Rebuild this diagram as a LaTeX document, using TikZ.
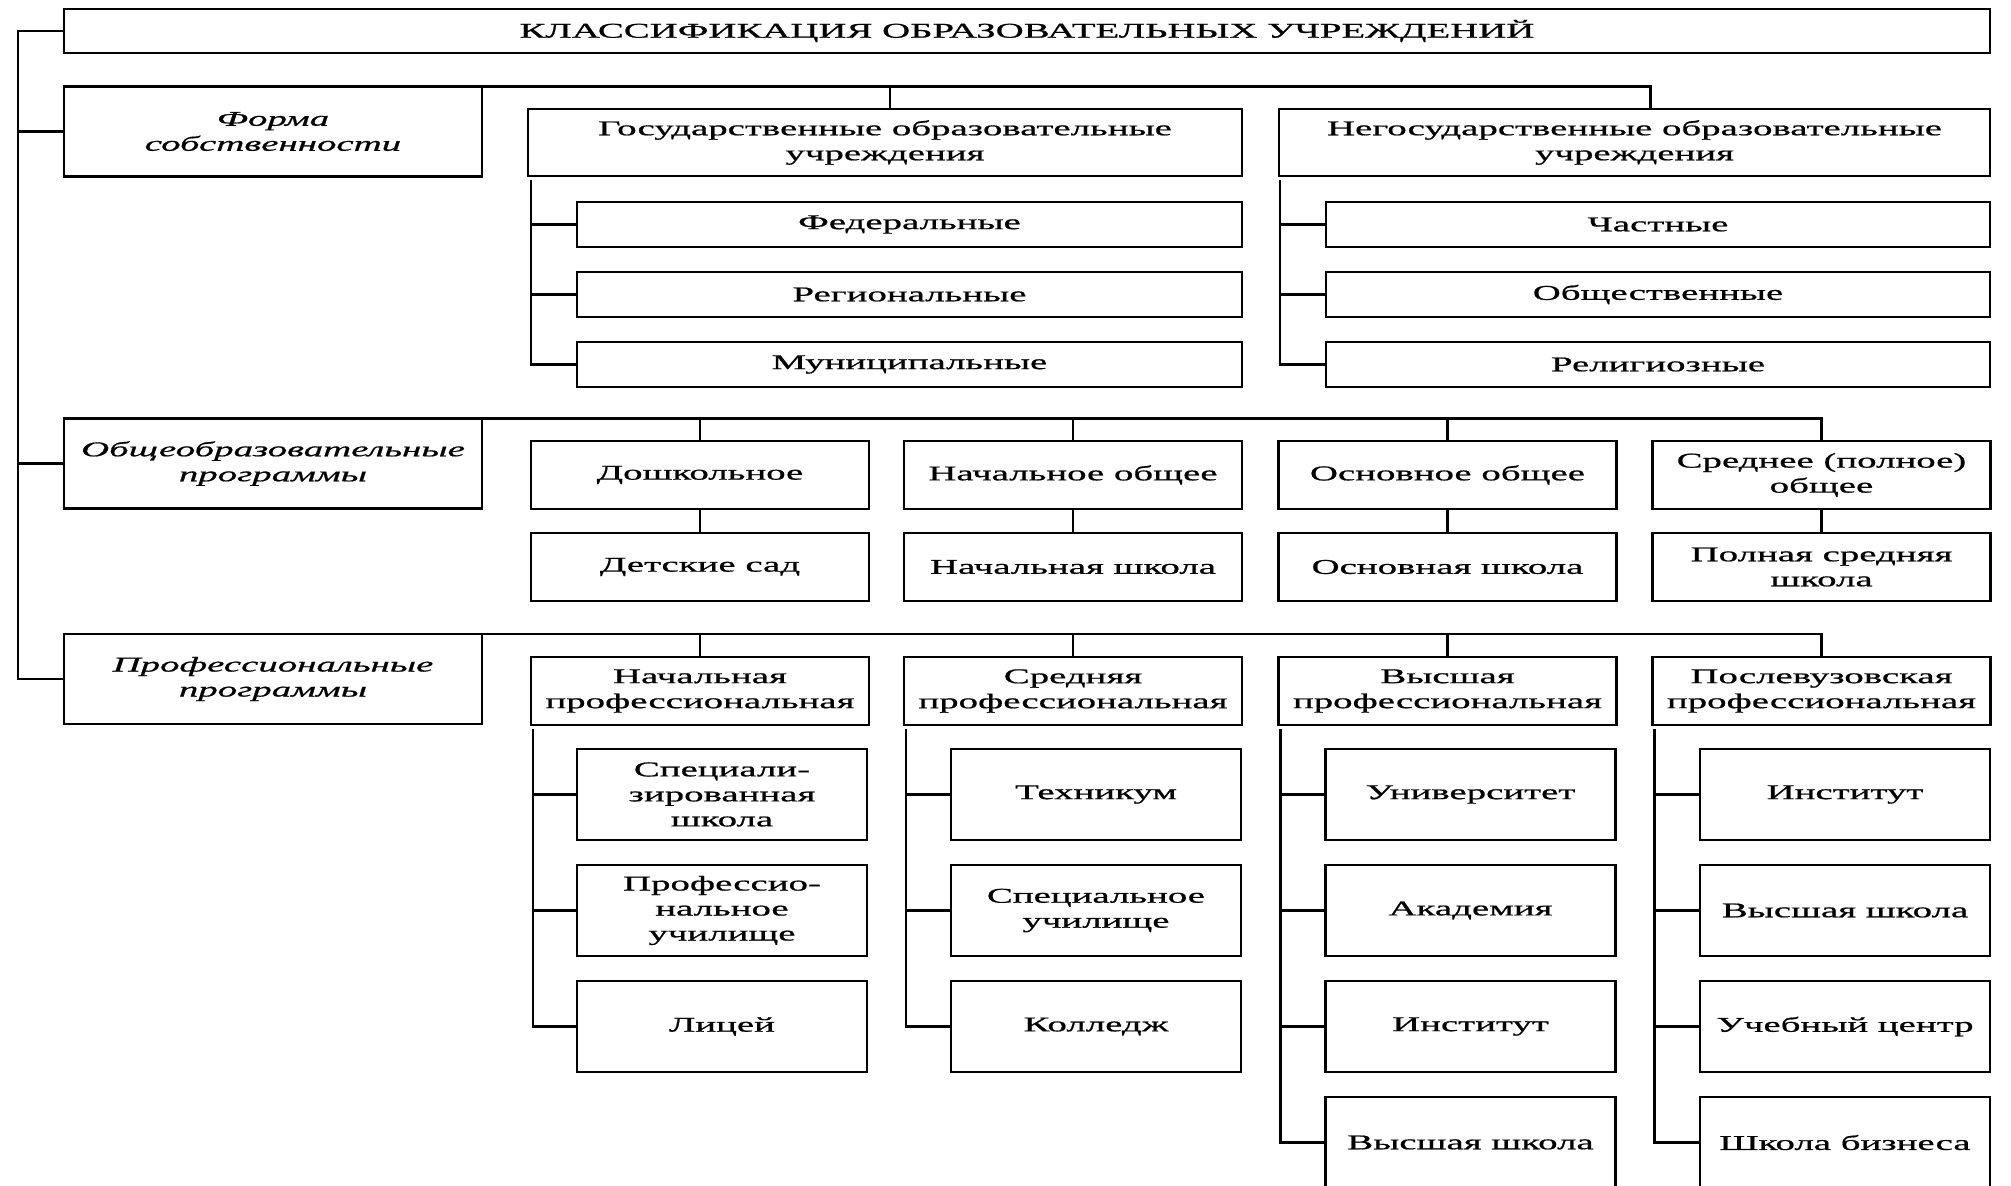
\documentclass[tikz,border=0pt]{standalone}
\usepackage{fontspec}
\setmainfont[FakeStretch=1.85,FakeBold=0.8]{Liberation Serif}
\usetikzlibrary{positioning}
\newcommand\boxfont{\fontsize{21}{25}\selectfont}

\begin{document}
\begin{tikzpicture}[
        x=1pt, y=-1pt,
        node distance=25pt,
        box/.style={
            draw,
            line width=2.4pt,
            align=center,
            inner sep=1pt,
            outer sep=0pt,
            font=\boxfont
        },
        group/.style={box, font=\boxfont\itshape, minimum width=418pt, minimum height=90pt},
        kind/.style={box, minimum width=665pt, minimum height=45pt},
        level/.style={box, minimum width=338pt, minimum height=68pt},
        inst/.style={box, minimum width=290pt, minimum height=91pt},
        line/.style={draw=black, line width=2.4pt}
    ]
    \useasboundingbox (0,0) rectangle (2011,1186);

    \node[box, minimum width=1926pt, minimum height=44pt] (title) at (1027,31) {КЛАССИФИКАЦИЯ ОБРАЗОВАТЕЛЬНЫХ УЧРЕЖДЕНИЙ};

    \node[group] (owner) at (273,131.5) {Форма\\собственности};
    \node[box, minimum width=714pt, minimum height=67pt] (state) at (885,142.5) {Государственные образовательные\\учреждения};
    \node[box, minimum width=711pt, minimum height=67pt] (nonstate) at (1634.5,142.5) {Негосударственные образовательные\\учреждения};
    \node[kind] (federal) at (909.5,224.5) {Федеральные};
    \node[kind, below=25pt of federal] (regional) {Региональные};
    \node[kind, below=25pt of regional] (municipal) {Муниципальные};
    \node[kind, minimum width=664pt] (private) at (1658,224.5) {Частные};
    \node[kind, minimum width=664pt, below=25pt of private] (public) {Общественные};
    \node[kind, minimum width=664pt, below=25pt of public] (religious) {Религиозные};

    \node[group] (general) at (273,463.5) {Общеобразовательные\\программы};
    \node[level] (preschool) at (700,475) {Дошкольное};
    \node[level] (primary) at (1073,475) {Начальное общее};
    \node[level] (basic) at (1447.5,475) {Основное общее};
    \node[level] (secondary) at (1821.5,475) {Среднее (полное)\\общее};
    \node[level, below=24pt of preschool] (kinder) {Детские сад};
    \node[level, below=24pt of primary] (primschool) {Начальная школа};
    \node[level, below=24pt of basic] (basicschool) {Основная школа};
    \node[level, below=24pt of secondary] (highschool) {Полная средняя\\школа};

    \node[group] (prof) at (273,679) {Профессиональные\\программы};
    \node[level] (initprof) at (700,691) {Начальная\\профессиональная};
    \node[level] (midprof) at (1073,691) {Средняя\\профессиональная};
    \node[level] (highprof) at (1447.5,691) {Высшая\\профессиональная};
    \node[level] (postprof) at (1821.5,691) {Послевузовская\\профессиональная};

    \node[inst] (special) at (722,794.5) {Специали-\\зированная\\школа};
    \node[inst, below=of special] (vocational) {Профессио-\\нальное\\училище};
    \node[inst, below=of vocational] (lyceum) {Лицей};

    \node[inst] (technical) at (1096,794.5) {Техникум};
    \node[inst, below=of technical] (specschool) {Специальное\\училище};
    \node[inst, below=of specschool] (college) {Колледж};

    \node[inst] (university) at (1470.5,794.5) {Университет};
    \node[inst, below=of university] (academy) {Академия};
    \node[inst, below=of academy] (institute) {Институт};
    \node[inst, below=of institute] (higher) {Высшая школа};

    \node[inst] (postinst) at (1845,794.5) {Институт};
    \node[inst, below=of postinst] (posthigher) {Высшая школа};
    \node[inst, below=of posthigher] (centre) {Учебный центр};
    \node[inst, below=of centre] (business) {Школа бизнеса};

    \coordinate (spine) at (18,31);
    \coordinate (stateroot) at ([xshift=3pt,yshift=-4pt]state.south west);
    \coordinate (nonstateroot) at ([xshift=1pt,yshift=-4pt]nonstate.south west);
    \coordinate (initroot) at ([xshift=2pt,yshift=-4pt]initprof.south west);
    \coordinate (midroot) at ([xshift=2pt,yshift=-4pt]midprof.south west);
    \coordinate (highroot) at ([xshift=2pt,yshift=-4pt]highprof.south west);
    \coordinate (postroot) at ([xshift=2pt,yshift=-4pt]postprof.south west);

    \draw[line] (title.west) -- (spine) |- (prof.west);
    \draw[line] (spine |- owner.west) -- (owner.west);
    \draw[line] (spine |- general.west) -- (general.west);

    \draw[line] (owner.north east) -| ([xshift=16pt]nonstate.north);
    \draw[line] ([xshift=5pt]state.north |- owner.north) -- ([xshift=5pt]state.north);
    \draw[line] (stateroot) |- (municipal.west);
    \draw[line] (stateroot |- federal.west) -- (federal.west);
    \draw[line] (stateroot |- regional.west) -- (regional.west);
    \draw[line] (nonstateroot) |- (religious.west);
    \draw[line] (nonstateroot |- private.west) -- (private.west);
    \draw[line] (nonstateroot |- public.west) -- (public.west);

    \draw[line] (general.north east) -| (secondary.north);
    \draw[line] (preschool.north |- general.north) -- (preschool.north);
    \draw[line] (primary.north |- general.north) -- (primary.north);
    \draw[line] (basic.north |- general.north) -- (basic.north);
    \draw[line] (preschool.south) -- (kinder.north);
    \draw[line] (primary.south) -- (primschool.north);
    \draw[line] (basic.south) -- (basicschool.north);
    \draw[line] (secondary.south) -- (highschool.north);

    \draw[line] (prof.north east) -| (postprof.north);
    \draw[line] (initprof.north |- prof.north) -- (initprof.north);
    \draw[line] (midprof.north |- prof.north) -- (midprof.north);
    \draw[line] (highprof.north |- prof.north) -- (highprof.north);

    \draw[line] (initroot) |- (lyceum.west);
    \draw[line] (initroot |- special.west) -- (special.west);
    \draw[line] (initroot |- vocational.west) -- (vocational.west);
    \draw[line] (midroot) |- (college.west);
    \draw[line] (midroot |- technical.west) -- (technical.west);
    \draw[line] (midroot |- specschool.west) -- (specschool.west);
    \draw[line] (highroot) |- (higher.west);
    \draw[line] (highroot |- university.west) -- (university.west);
    \draw[line] (highroot |- academy.west) -- (academy.west);
    \draw[line] (highroot |- institute.west) -- (institute.west);
    \draw[line] (postroot) |- (business.west);
    \draw[line] (postroot |- postinst.west) -- (postinst.west);
    \draw[line] (postroot |- posthigher.west) -- (posthigher.west);
    \draw[line] (postroot |- centre.west) -- (centre.west);
\end{tikzpicture}
\end{document}
